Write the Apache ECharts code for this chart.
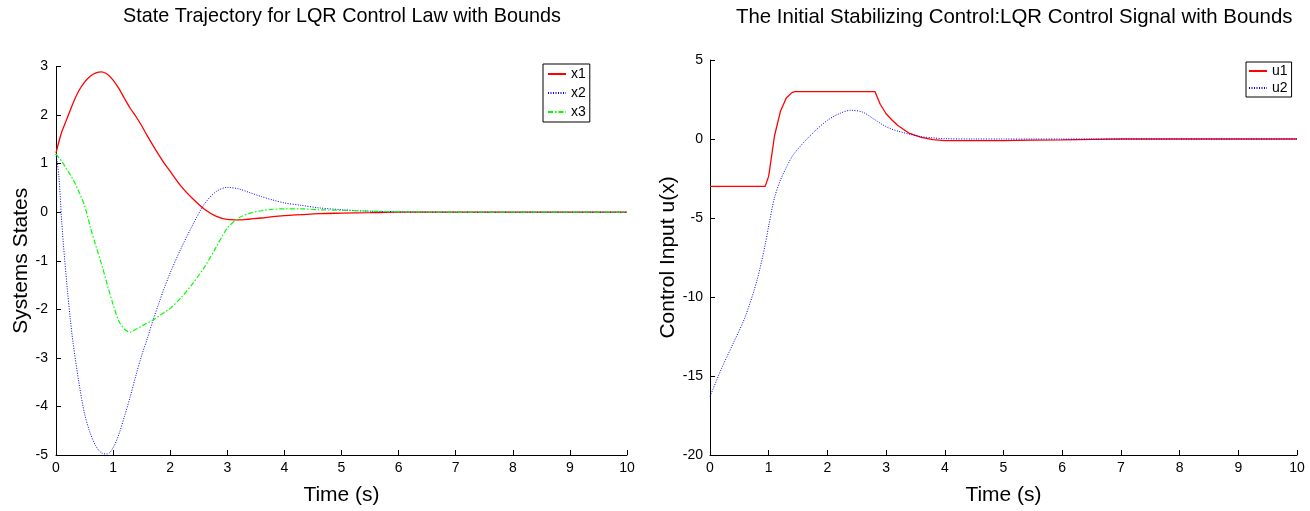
<!DOCTYPE html>
<html><head><meta charset="utf-8">
<script src="https://cdn.jsdelivr.net/npm/echarts@6/dist/echarts.min.js"></script>
<style>html,body{margin:0;padding:0;background:#fff}#c{width:1310px;height:511px}</style>
</head><body><div id="c"></div>
<script>
// Left chart: state trajectory
const tLeft = [0,0.05,0.1,0.15,0.2,0.25,0.3,0.4,0.5,0.6,0.7,0.8,0.9,1.0,1.1,1.2,1.3,1.4,1.5,1.6,1.7,1.8,1.9,2.0,2.2,2.4,2.6,2.8,3.0,3.2,3.4,3.6,3.8,4.0,4.3,4.6,5.0,5.5,6.0,7,8,9,10];
const x1 = [1.22,1.45,1.65,1.8,1.95,2.1,2.25,2.5,2.68,2.80,2.87,2.89,2.84,2.72,2.55,2.34,2.14,1.97,1.78,1.57,1.37,1.18,1.00,0.84,0.52,0.27,0.06,-0.08,-0.15,-0.16,-0.14,-0.12,-0.09,-0.07,-0.05,-0.03,-0.02,-0.01,0,0,0,0,0];
const x2 = [1.2,0.75,-0.2,-0.95,-1.6,-2.2,-2.7,-3.5,-4.15,-4.55,-4.82,-4.96,-4.98,-4.85,-4.58,-4.2,-3.8,-3.36,-2.95,-2.6,-2.22,-1.88,-1.55,-1.25,-0.72,-0.25,0.17,0.42,0.51,0.48,0.40,0.32,0.25,0.19,0.14,0.09,0.05,0.02,0.01,0,0,0,0];
const x3 = [1.2,1.12,1.05,0.96,0.86,0.77,0.67,0.42,0.14,-0.3,-0.7,-1.08,-1.5,-1.9,-2.24,-2.41,-2.47,-2.41,-2.35,-2.28,-2.22,-2.14,-2.06,-1.98,-1.75,-1.46,-1.13,-0.73,-0.33,-0.12,-0.02,0.03,0.06,0.07,0.07,0.05,0.04,0.02,0.01,0,0,0,0];
// Right chart: control signals
const tRight = [0,0.2,0.4,0.6,0.8,0.94,1.0,1.1,1.2,1.3,1.4,1.45,1.6,1.8,2.0,2.2,2.4,2.6,2.81,2.85,2.9,3.0,3.1,3.2,3.4,3.6,3.8,4.0,4.5,5.0,5.5,6.0,6.5,7,8,9,10];
const u1 = [-3,-3,-3,-3,-3,-3,-2.35,0.22,1.75,2.6,2.95,3,3,3,3,3,3,3,3,2.65,2.2,1.6,1.2,0.85,0.35,0.1,-0.04,-0.1,-0.1,-0.1,-0.07,-0.06,-0.03,0,0,0,0];
const u2 = [-16.3,-14.5,-12.9,-11.25,-8.95,-6.7,-5.5,-3.7,-2.6,-1.8,-1.1,-0.85,-0.2,0.55,1.18,1.6,1.82,1.7,1.22,1.12,1.0,0.78,0.62,0.5,0.3,0.15,0.07,0.02,0,0,0,0,0,0,0,0,0];

const leftTitle = 'State Trajectory for LQR Control Law with Bounds';
const rightTitle = 'The Initial Stabilizing Control:LQR Control Signal with Bounds';

const pair = (t, v) => t.map((x, i) => [x, v[i]]);
const FONT = 'Liberation Sans, Arial, sans-serif';
const axisCommon = {
  axisLine: {show: true, onZero: false, lineStyle: {color: '#000', width: 1}},
  axisTick: {show: true, inside: true, length: 5, lineStyle: {color: '#000'}},
  axisLabel: {color: '#000', fontSize: 14, fontFamily: FONT},
  splitLine: {show: false},
  nameTextStyle: {color: '#000', fontSize: 21, fontFamily: FONT}
};
function xAx(grid) {
  return Object.assign({}, axisCommon, {type: 'value', gridIndex: grid, min: 0, max: 10, interval: 1,
    name: 'Time (s)', nameLocation: 'middle', nameGap: 30,
    axisLabel: Object.assign({}, axisCommon.axisLabel, {margin: 6})});
}
const legendCommon = {orient: 'vertical', itemWidth: 18, itemHeight: 14, borderColor: '#000', borderWidth: 1,
  backgroundColor: '#fff', itemStyle: {opacity: 0}, textStyle: {fontSize: 14, color: '#000', fontFamily: FONT}};
const chart = echarts.init(document.getElementById('c'), null, {renderer: 'canvas'});
chart.setOption({
  backgroundColor: '#fff',
  animation: false,
  title: [
    {text: leftTitle, left: 123, top: 7, padding: 0, textStyle: {fontSize: 19.8, fontWeight: 'normal', color: '#000', fontFamily: FONT}},
    {text: rightTitle, left: 736, top: 7, padding: 0, textStyle: {fontSize: 20.4, fontWeight: 'normal', color: '#000', fontFamily: FONT}}
  ],
  grid: [
    {left: 56, right: 683, top: 66.5, bottom: 56},
    {left: 710, right: 13, top: 60, bottom: 56}
  ],
  xAxis: [xAx(0), xAx(1)],
  yAxis: [
    Object.assign({}, axisCommon, {type: 'value', gridIndex: 0, min: -5, max: 3, interval: 1,
      name: 'Systems States', nameLocation: 'middle', nameGap: 22,
      axisLabel: Object.assign({}, axisCommon.axisLabel, {margin: 8})}),
    Object.assign({}, axisCommon, {type: 'value', gridIndex: 1, min: -20, max: 5, interval: 5,
      name: 'Control Input u(x)', nameLocation: 'middle', nameGap: 30,
      axisLabel: Object.assign({}, axisCommon.axisLabel, {margin: 7})})
  ],
  legend: [
    Object.assign({}, legendCommon, {data: ['x1','x2','x3'], left: 543, top: 64, itemGap: 5, padding: [3, 4, 3, 4]}),
    Object.assign({}, legendCommon, {data: ['u1','u2'], left: 1246, top: 62, itemGap: 3, padding: [2, 4, 2, 2]})
  ],
  series: [
    {name: 'x1', type: 'line', xAxisIndex: 0, yAxisIndex: 0, data: pair(tLeft, x1), symbol: 'none', smooth: 0.3,
     color: '#ff0000', lineStyle: {color: '#ff0000', width: 1.3, type: 'solid'}},
    {name: 'x2', type: 'line', xAxisIndex: 0, yAxisIndex: 0, data: pair(tLeft, x2), symbol: 'none', smooth: 0.3,
     color: '#0000ff', lineStyle: {color: '#0000ff', width: 1, type: [1, 1.5]}},
    {name: 'x3', type: 'line', xAxisIndex: 0, yAxisIndex: 0, data: pair(tLeft, x3), symbol: 'none', smooth: 0.3,
     color: '#00ff00', lineStyle: {color: '#00ff00', width: 1.2, type: [5, 2, 1.5, 2]}},
    {name: 'u1', type: 'line', xAxisIndex: 1, yAxisIndex: 1, data: pair(tRight, u1), symbol: 'none', smooth: false,
     color: '#ff0000', lineStyle: {color: '#ff0000', width: 1.3, type: 'solid'}},
    {name: 'u2', type: 'line', xAxisIndex: 1, yAxisIndex: 1, data: pair(tRight, u2), symbol: 'none', smooth: 0.3,
     color: '#0000ff', lineStyle: {color: '#0000ff', width: 1, type: [1, 1.5]}}
  ]
});
</script></body></html>
